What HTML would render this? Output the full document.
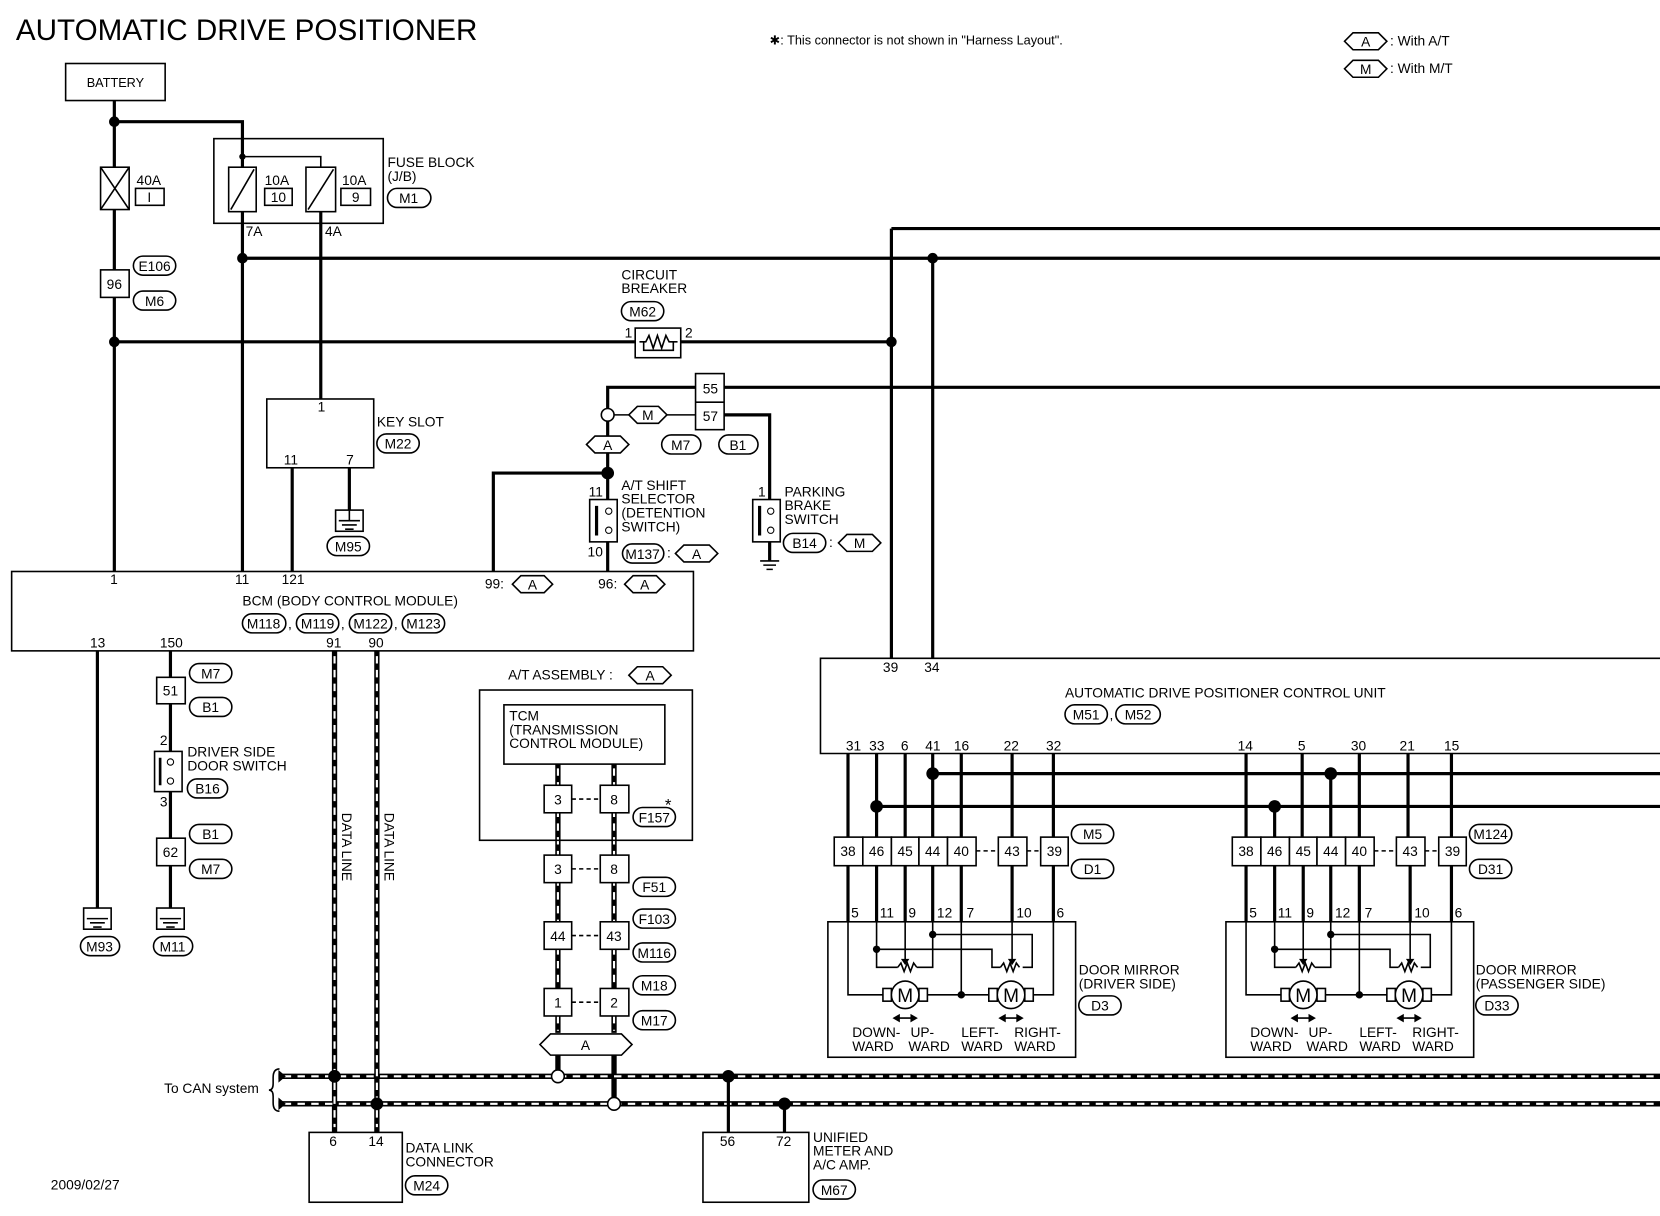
<!DOCTYPE html>
<html><head><meta charset="utf-8"><style>
html,body{margin:0;padding:0;background:#fff}
svg{display:block}
text{font-family:"Liberation Sans",sans-serif;font-size:13px;fill:#000}
.w{stroke:#000;stroke-width:3;fill:none}
.t{stroke:#000;stroke-width:1.5;fill:none}
.b{stroke:#000;stroke-width:1.5;fill:#fff}
.dl{stroke:#000;stroke-width:5;fill:none}
.dw{stroke:#fff;stroke-width:2;stroke-dasharray:7 6;fill:none}
.c{text-anchor:middle}
</style></head><body>
<svg width="1660" height="1216" viewBox="0 0 1568 1149" preserveAspectRatio="none" xmlns="http://www.w3.org/2000/svg">
<text x="15" y="38" style="font-size:28px">AUTOMATIC DRIVE POSITIONER</text>
<text x="727" y="42" style="font-size:12px">✱: This connector is not shown in "Harness Layout".</text>
<polygon class="b" points="1270,39 1278,31 1302,31 1310,39 1302,47 1278,47"/><text class="c" x="1290" y="44">A</text><text x="1313" y="43">: With A/T</text>
<polygon class="b" points="1270,65 1278,57 1302,57 1310,65 1302,73 1278,73"/><text class="c" x="1290" y="70">M</text><text x="1313" y="69">: With M/T</text>

<rect class="b" x="62" y="60" width="94" height="35"/><text class="c" x="109" y="82" style="font-size:12px">BATTERY</text>
<path class="w" d="M108 95V540M108 115H229V148M229 211V540M303 211V377"/>
<circle cx="108" cy="115" r="5"/>
<rect class="b" x="95" y="158" width="27" height="40"/><path class="t" d="M95 158L122 198M122 158L95 198"/>
<text x="129" y="175">40A</text><rect class="b" x="128" y="178" width="27" height="16"/><text class="c" x="141" y="191">I</text>
<rect class="t" x="202" y="131" width="160" height="80" stroke-width="2"/>
<path class="t" d="M229 148H303V158"/><circle cx="229" cy="148" r="3"/>
<path class="w" d="M229 148V158"/>
<rect class="b" x="216" y="158" width="26" height="42" stroke-width="2"/><path class="t" d="M218 198L240 160"/>
<rect class="b" x="289" y="158" width="28" height="42" stroke-width="2"/><path class="t" d="M291 198L315 160"/>
<path class="w" d="M229 200V211M303 200V211"/>
<text x="250" y="175">10A</text><rect class="b" x="250" y="178" width="26" height="16"/><text class="c" x="263" y="191">10</text>
<text x="323" y="175">10A</text><rect class="b" x="322" y="178" width="28" height="16"/><text class="c" x="336" y="191">9</text>
<text x="232" y="223">7A</text><text x="307" y="223">4A</text>
<text x="366" y="158">FUSE BLOCK</text><text x="366" y="171">(J/B)</text>
<rect class="b" x="366" y="178" width="41" height="18" rx="9"/><text class="c" x="386" y="192">M1</text>
<rect class="b" x="95" y="255" width="27" height="26"/><text class="c" x="108" y="273">96</text>
<rect class="b" x="126" y="242" width="40" height="18" rx="9"/><text class="c" x="146" y="256">E106</text>
<rect class="b" x="126" y="275" width="40" height="18" rx="9"/><text class="c" x="146" y="289">M6</text>
<path class="w" d="M229 244H1568M842 216H1568M842 216V622M881 244V622M108 323H600M643 323H842M684 366H1568"/>
<circle cx="229" cy="244" r="5"/><circle cx="881" cy="244" r="5"/><circle cx="108" cy="323" r="5"/><circle cx="842" cy="323" r="5"/>
<rect class="b" x="600" y="310" width="43" height="28"/>
<path class="t" d="M604 323H610L613 317L617 329L621 317L625 329L629 317L632 323H640"/>
<path class="t" d="M608 323V331H636V323"/>
<text x="590" y="319">1</text><text x="647" y="319">2</text>
<text x="587" y="264">CIRCUIT</text><text x="587" y="277">BREAKER</text>
<rect class="b" x="587" y="285" width="40" height="18" rx="9"/><text class="c" x="607" y="299">M62</text>
<rect class="b" x="252" y="377" width="101" height="65"/>
<text x="300" y="389">1</text><text x="268" y="439">11</text><text x="327" y="439">7</text>
<path class="w" d="M276 442V540M330 442V482"/>
<rect class="b" x="317" y="482" width="26" height="20"/><path class="t" d="M330 482V492M320 492H340M323 496H337M326 500H334"/>
<rect class="b" x="309" y="507" width="40" height="18" rx="9"/><text class="c" x="329" y="521">M95</text>
<text x="356" y="403">KEY SLOT</text>
<rect class="b" x="356" y="410" width="40" height="18" rx="9"/><text class="c" x="376" y="424">M22</text>
<path class="w" d="M574 392V366H657M574 392V472M574 447H466V540M574 512V540M684 392H727V472M727 512V530"/>
<path class="t" d="M574 392H657"/>
<rect class="b" x="657" y="353" width="27" height="53"/><path class="t" d="M657 380H684"/>
<text class="c" x="671" y="372">55</text><text class="c" x="671" y="398">57</text>
<circle cx="574" cy="392" r="6" fill="#fff" stroke="#000" stroke-width="1.5"/>
<polygon class="b" points="594,392 602,384 622,384 630,392 622,400 602,400"/><text class="c" x="612" y="397">M</text>
<polygon class="b" points="554,420 562,412 586,412 594,420 586,428 562,428"/><text class="c" x="574" y="425">A</text>
<circle cx="574" cy="447" r="6"/>
<rect class="b" x="625" y="411" width="37" height="18" rx="9"/><text class="c" x="643" y="425">M7</text>
<rect class="b" x="679" y="411" width="37" height="18" rx="9"/><text class="c" x="697" y="425">B1</text>
<rect class="b" x="557" y="472" width="26" height="40"/><rect x="562" y="478" width="3" height="28"/>
<circle cx="575" cy="483" r="3" fill="#fff" stroke="#000"/><circle cx="575" cy="501" r="3" fill="#fff" stroke="#000"/>
<text x="556" y="469">11</text><text x="555" y="526">10</text>
<text x="587" y="463">A/T SHIFT</text><text x="587" y="476">SELECTOR</text><text x="587" y="489">(DETENTION</text><text x="587" y="502"> SWITCH)</text>
<rect class="b" x="588" y="514" width="39" height="18" rx="9"/><text class="c" x="607" y="528">M137</text><text x="630" y="527">:</text>
<polygon class="b" points="638,523 646,515 670,515 678,523 670,531 646,531"/><text class="c" x="658" y="528">A</text>
<rect class="b" x="711" y="472" width="26" height="40"/><rect x="716" y="478" width="3" height="28"/>
<circle cx="728" cy="483" r="3" fill="#fff" stroke="#000"/><circle cx="728" cy="501" r="3" fill="#fff" stroke="#000"/>
<path class="t" d="M718 530H736M721 534H733M724 538H730"/>
<text x="716" y="469">1</text>
<text x="741" y="469">PARKING</text><text x="741" y="482">BRAKE</text><text x="741" y="495">SWITCH</text>
<rect class="b" x="740" y="504" width="40" height="18" rx="9"/><text class="c" x="760" y="518">B14</text><text x="783" y="517">:</text>
<polygon class="b" points="792,513 800,505 824,505 832,513 824,521 800,521"/><text class="c" x="812" y="518">M</text>
<rect class="b" x="11" y="540" width="644" height="75" stroke-width="2"/>
<text x="104" y="552">1</text><text x="222" y="552">11</text><text x="266" y="552">121</text>
<text x="458" y="556">99:</text><polygon class="b" points="484,552 492,544 514,544 522,552 514,560 492,560"/><text class="c" x="503" y="557">A</text>
<text x="565" y="556">96:</text><polygon class="b" points="590,552 598,544 620,544 628,552 620,560 598,560"/><text class="c" x="609" y="557">A</text>
<text x="229" y="572">BCM (BODY CONTROL MODULE)</text>
<rect class="b" x="229" y="580" width="41" height="18" rx="9"/><text class="c" x="249" y="594">M118</text><text x="272" y="594">,</text>
<rect class="b" x="280" y="580" width="40" height="18" rx="9"/><text class="c" x="300" y="594">M119</text><text x="322" y="594">,</text>
<rect class="b" x="330" y="580" width="40" height="18" rx="9"/><text class="c" x="350" y="594">M122</text><text x="372" y="594">,</text>
<rect class="b" x="380" y="580" width="40" height="18" rx="9"/><text class="c" x="400" y="594">M123</text>
<text x="85" y="612">13</text><text x="151" y="612">150</text><text x="308" y="612">91</text><text x="348" y="612">90</text>
<path class="w" d="M92 615V878M161 615V710M161 748V878"/>
<rect class="b" x="79" y="858" width="26" height="20"/><path class="t" d="M82 868H102M85 872H99M88 876H96"/>
<rect class="b" x="148" y="858" width="26" height="20"/><path class="t" d="M151 868H171M154 872H168M157 876H165"/>
<rect class="b" x="76" y="885" width="37" height="18" rx="9"/><text class="c" x="94" y="899">M93</text>
<rect class="b" x="145" y="885" width="37" height="18" rx="9"/><text class="c" x="163" y="899">M11</text>
<rect class="b" x="148" y="640" width="27" height="25"/><text class="c" x="161" y="657">51</text>
<rect class="b" x="179" y="627" width="40" height="18" rx="9"/><text class="c" x="199" y="641">M7</text>
<rect class="b" x="179" y="659" width="40" height="18" rx="9"/><text class="c" x="199" y="673">B1</text>
<rect class="b" x="146" y="710" width="26" height="38" stroke-width="2"/><rect x="150" y="716" width="2.5" height="26"/>
<circle cx="161" cy="720" r="3" fill="#fff" stroke="#000"/><circle cx="161" cy="738" r="3" fill="#fff" stroke="#000"/>
<text x="151" y="704">2</text><text x="151" y="762">3</text>
<text x="177" y="715">DRIVER SIDE</text><text x="177" y="728">DOOR SWITCH</text>
<rect class="b" x="177" y="736" width="38" height="18" rx="9"/><text class="c" x="196" y="750">B16</text>
<rect class="b" x="148" y="792" width="27" height="26"/><text class="c" x="161" y="810">62</text>
<rect class="b" x="179" y="779" width="40" height="18" rx="9"/><text class="c" x="199" y="793">B1</text>
<rect class="b" x="179" y="812" width="40" height="18" rx="9"/><text class="c" x="199" y="826">M7</text>
<path class="dl" d="M316 615V1070M356 615V1070M263 1017H1568M263 1043H1568M527 722V976M580 722V976M527 997V1017M580 997V1043"/>
<path class="dw" d="M316 620V1065M356 620V1065M268 1017H1568M268 1043H1568M527 726V974M580 726V974"/>
<text transform="translate(323,768) rotate(90)">DATA LINE</text>
<text transform="translate(363,768) rotate(90)">DATA LINE</text>
<text x="155" y="1033">To CAN system</text>
<path class="t" d="M264 1010Q258 1010 258 1018V1024Q258 1030 254 1030Q258 1030 258 1036V1042Q258 1050 264 1050"/>
<path d="M263 1011L270 1017L263 1023ZM263 1037L270 1043L263 1049Z"/>
<circle cx="316" cy="1017" r="6"/><circle cx="356" cy="1043" r="6"/><circle cx="688" cy="1017" r="6"/><circle cx="741" cy="1043" r="6"/>
<circle cx="527" cy="1017" r="6" fill="#fff" stroke="#000" stroke-width="1.5"/><circle cx="580" cy="1043" r="6" fill="#fff" stroke="#000" stroke-width="1.5"/>
<path class="w" d="M688 1017V1070M741 1043V1070"/>
<rect class="b" x="292" y="1070" width="88" height="66"/><text x="311" y="1083">6</text><text x="348" y="1083">14</text>
<text x="383" y="1089">DATA LINK</text><text x="383" y="1102">CONNECTOR</text>
<rect class="b" x="383" y="1111" width="40" height="18" rx="9"/><text class="c" x="403" y="1125">M24</text>
<rect class="b" x="664" y="1070" width="100" height="66"/><text x="680" y="1083">56</text><text x="733" y="1083">72</text>
<text x="768" y="1079">UNIFIED</text><text x="768" y="1092">METER AND</text><text x="768" y="1105">A/C AMP.</text>
<rect class="b" x="768" y="1115" width="40" height="18" rx="9"/><text class="c" x="788" y="1129">M67</text>
<text x="48" y="1124">2009/02/27</text>
<text x="480" y="642">A/T ASSEMBLY :</text>
<polygon class="b" points="594,638 602,630 626,630 634,638 626,646 602,646"/><text class="c" x="614" y="643">A</text>
<rect class="t" x="453" y="652" width="201" height="142" stroke-width="2"/>
<rect class="b" x="476" y="666" width="152" height="56"/>
<text x="481" y="681">TCM</text><text x="481" y="694">(TRANSMISSION</text><text x="481" y="707"> CONTROL MODULE)</text>
<rect class="b" x="514" y="742" width="26" height="26"/><text class="c" x="527" y="760">3</text>
<rect class="b" x="567" y="742" width="27" height="26"/><text class="c" x="580" y="760">8</text>
<rect class="b" x="514" y="808" width="26" height="26"/><text class="c" x="527" y="826">3</text>
<rect class="b" x="567" y="808" width="27" height="26"/><text class="c" x="580" y="826">8</text>
<rect class="b" x="514" y="871" width="26" height="26"/><text class="c" x="527" y="889">44</text>
<rect class="b" x="567" y="871" width="27" height="26"/><text class="c" x="580" y="889">43</text>
<rect class="b" x="514" y="934" width="26" height="26"/><text class="c" x="527" y="952">1</text>
<rect class="b" x="567" y="934" width="27" height="26"/><text class="c" x="580" y="952">2</text>
<path class="t" d="M540 755H567M540 821H567M540 884H567M540 947H567" stroke-dasharray="4 3"/>
<text x="628" y="766" style="font-size:16px">*</text>
<rect class="b" x="598" y="763" width="40" height="18" rx="9"/><text class="c" x="618" y="777">F157</text>
<rect class="b" x="598" y="829" width="40" height="18" rx="9"/><text class="c" x="618" y="843">F51</text>
<rect class="b" x="598" y="859" width="40" height="18" rx="9"/><text class="c" x="618" y="873">F103</text>
<rect class="b" x="598" y="891" width="40" height="18" rx="9"/><text class="c" x="618" y="905">M116</text>
<rect class="b" x="598" y="922" width="40" height="18" rx="9"/><text class="c" x="618" y="936">M18</text>
<rect class="b" x="598" y="955" width="40" height="18" rx="9"/><text class="c" x="618" y="969">M17</text>
<polygon class="b" points="510,987 520,977 587,977 597,987 587,997 520,997"/><text class="c" x="553" y="992">A</text>
<path class="t" d="M1568 622H775V712H1568" stroke-width="2"/>
<text x="834" y="635">39</text><text x="873" y="635">34</text>
<text x="1006" y="659">AUTOMATIC DRIVE POSITIONER CONTROL UNIT</text>
<rect class="b" x="1006" y="666" width="40" height="18" rx="9"/><text class="c" x="1026" y="680">M51</text><text x="1048" y="680">,</text>
<rect class="b" x="1054" y="666" width="42" height="18" rx="9"/><text class="c" x="1075" y="680">M52</text>
<path class="w" d="M881 731H1568M828 762H1568"/>
<path class="w" d="M801 712V791M828 712V791M855 712V791M881 712V791M908 712V791M956 712V791M995 712V791M1177 712V791M1204 762V791M1230 712V791M1257 731V791M1284 712V791M1330 712V791M1371 712V791"/>
<circle cx="881" cy="731" r="6"/><circle cx="828" cy="762" r="6"/><circle cx="1204" cy="762" r="6"/><circle cx="1257" cy="731" r="6"/>
<g id="m1">
<path class="w" d="M801 818V871M828 818V871M855 818V871M881 818V871M908 818V871M956 818V871M995 818V871"/>
<rect class="b" x="788" y="791" width="27" height="27"/><rect class="b" x="815" y="791" width="27" height="27"/><rect class="b" x="842" y="791" width="26" height="27"/><rect class="b" x="868" y="791" width="27" height="27"/><rect class="b" x="895" y="791" width="27" height="27"/>
<rect class="b" x="943" y="791" width="27" height="27"/><rect class="b" x="983" y="791" width="26" height="27"/>
<path class="t" d="M922 804H943M970 804H983" stroke-dasharray="4 3"/>
<text class="c" x="801" y="809">38</text><text class="c" x="828" y="809">46</text><text class="c" x="855" y="809">45</text><text class="c" x="881" y="809">44</text><text class="c" x="908" y="809">40</text><text class="c" x="956" y="809">43</text><text class="c" x="996" y="809">39</text>
<rect class="t" x="782" y="871" width="234" height="128"/>
<text x="804" y="867">5</text><text x="831" y="867">11</text><text x="858" y="867">9</text><text x="885" y="867">12</text><text x="913" y="867">7</text><text x="960" y="867">10</text><text x="998" y="867">6</text>
<path class="t" d="M801 871V940H840M828 871V914H848M828 897H937V914H945M855 871V907M881 871V914H866M881 883H975V914H966M908 871V940M956 871V907M995 871V940H971M870 940H940"/>
<path class="t" d="M848 914L851 910L854 918L857 910L860 918L863 910L866 914"/>
<path class="t" d="M945 914L948 910L951 918L954 910L957 918L960 910L963 914"/>
<path d="M851 906L859 906L855 912ZM952 906L960 906L956 912Z"/>
<circle cx="828" cy="897" r="3.5"/><circle cx="881" cy="883" r="3.5"/><circle cx="908" cy="940" r="3.5"/>
<rect class="b" x="834" y="934" width="8" height="12"/><rect class="b" x="868" y="934" width="8" height="12"/><circle cx="855" cy="940" r="13" class="b" stroke-width="2"/><text class="c" x="855" y="947" style="font-size:18px">M</text>
<rect class="b" x="934" y="934" width="8" height="12"/><rect class="b" x="968" y="934" width="8" height="12"/><circle cx="955" cy="940" r="13" class="b" stroke-width="2"/><text class="c" x="955" y="947" style="font-size:18px">M</text>
<path d="M843 962L850 958V966ZM867 962L860 958V966ZM943 962L950 958V966ZM967 962L960 958V966Z"/><path class="t" d="M848 962H862M948 962H962"/>
<text x="805" y="980">DOWN-</text><text x="860" y="980">UP-</text><text x="908" y="980">LEFT-</text><text x="958" y="980">RIGHT-</text>
<text x="805" y="993">WARD</text><text x="858" y="993">WARD</text><text x="908" y="993">WARD</text><text x="958" y="993">WARD</text>
</g>
<use href="#m1" transform="translate(376,0)"/>
<text x="799" y="709">31</text><text x="821" y="709">33</text><text x="851" y="709">6</text><text x="874" y="709">41</text><text x="901" y="709">16</text><text x="948" y="709">22</text><text x="988" y="709">32</text>
<text x="1169" y="709">14</text><text x="1226" y="709">5</text><text x="1276" y="709">30</text><text x="1322" y="709">21</text><text x="1364" y="709">15</text>
<rect class="b" x="1012" y="779" width="40" height="18" rx="9"/><text class="c" x="1032" y="793">M5</text>
<rect class="b" x="1012" y="812" width="40" height="18" rx="9"/><text class="c" x="1032" y="826">D1</text>
<rect class="b" x="1388" y="779" width="40" height="18" rx="9"/><text class="c" x="1408" y="793">M124</text>
<rect class="b" x="1388" y="812" width="40" height="18" rx="9"/><text class="c" x="1408" y="826">D31</text>
<text x="1019" y="921">DOOR MIRROR</text><text x="1019" y="934">(DRIVER SIDE)</text>
<rect class="b" x="1019" y="941" width="40" height="18" rx="9"/><text class="c" x="1039" y="955">D3</text>
<text x="1394" y="921">DOOR MIRROR</text><text x="1394" y="934">(PASSENGER SIDE)</text>
<rect class="b" x="1394" y="941" width="40" height="18" rx="9"/><text class="c" x="1414" y="955">D33</text>
</svg>
</body></html>
